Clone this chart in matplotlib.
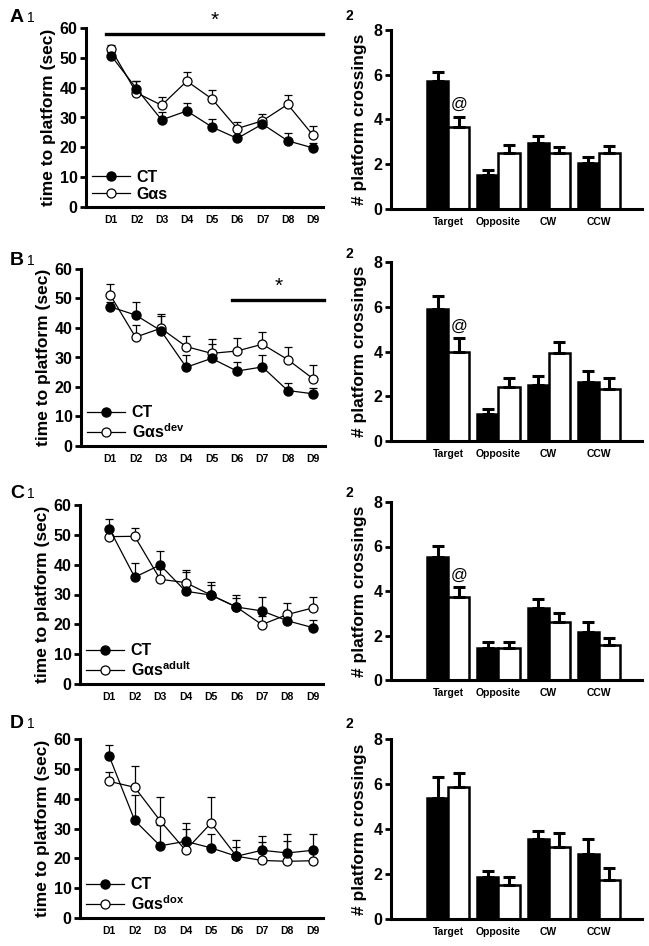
import matplotlib
matplotlib.use('Agg')
import matplotlib.pyplot as plt
import numpy as np

plt.rcParams['font.family'] = ['Liberation Sans', 'DejaVu Sans']
plt.rcParams['font.weight'] = 'bold'
plt.rcParams['axes.labelweight'] = 'bold'
plt.rcParams['mathtext.fontset'] = 'custom'
plt.rcParams['mathtext.rm'] = 'Liberation Sans:bold'
plt.rcParams['mathtext.it'] = 'Liberation Sans:bold'
plt.rcParams['mathtext.bf'] = 'Liberation Sans:bold'

# Days of water maze training
days = ['D1', 'D2', 'D3', 'D4', 'D5', 'D6', 'D7', 'D8', 'D9']
quadrants = ['Target', 'Opposite', 'CW', 'CCW']

# Legend names for the mutant group of each row
mut_names = ['G\u03b1s', 'G\u03b1s$^{\\mathrm{dev}}$',
             'G\u03b1s$^{\\mathrm{adult}}$', 'G\u03b1s$^{\\mathrm{dox}}$']
row_letters = ['A', 'B', 'C', 'D']

# Escape latency (sec), mean and upper SEM
ct_time = [
    [50.7, 39.7, 29.2, 32.2, 26.8, 23.0, 27.8, 22.2, 19.8],
    [47.2, 44.4, 39.1, 26.7, 29.7, 25.4, 26.8, 18.8, 17.7],
    [52.1, 35.8, 39.9, 31.1, 29.8, 25.8, 24.5, 21.2, 18.9],
    [54.2, 32.7, 24.2, 25.7, 23.5, 20.7, 22.7, 21.8, 22.7],
]
ct_time_err = [
    [1.2, 2.6, 2.8, 2.8, 2.8, 1.0, 1.5, 2.7, 1.8],
    [1.5, 4.5, 5.0, 4.3, 5.0, 3.2, 4.0, 2.7, 2.0],
    [3.1, 4.7, 4.8, 6.3, 4.5, 3.0, 4.6, 2.5, 2.7],
    [3.9, 8.6, 7.0, 6.1, 4.8, 5.4, 4.9, 6.4, 5.5],
]
mut_time = [
    [52.8, 38.3, 34.1, 42.2, 36.2, 26.3, 28.9, 34.4, 24.1],
    [51.2, 36.9, 39.9, 33.7, 31.4, 32.2, 34.5, 29.3, 22.8],
    [49.4, 49.5, 35.1, 34.0, 29.8, 25.8, 19.9, 23.3, 25.5],
    [45.8, 43.8, 32.6, 22.7, 31.8, 20.7, 19.3, 19.0, 19.2],
]
mut_time_err = [
    [1.6, 4.0, 2.7, 3.1, 3.1, 2.3, 2.3, 3.0, 3.1],
    [3.6, 4.2, 5.0, 3.7, 4.8, 4.5, 4.0, 4.2, 4.7],
    [2.0, 2.9, 3.5, 4.2, 3.3, 4.0, 2.9, 4.0, 3.7],
    [3.0, 7.0, 7.8, 7.1, 8.9, 3.0, 6.1, 6.9, 3.0],
]

# Probe trial platform crossings
ct_cross = [
    [5.72, 1.52, 2.97, 2.07],
    [5.90, 1.21, 2.51, 2.65],
    [5.52, 1.45, 3.24, 2.17],
    [5.37, 1.87, 3.54, 2.87],
]
ct_cross_err = [
    [0.39, 0.22, 0.30, 0.27],
    [0.60, 0.21, 0.40, 0.49],
    [0.49, 0.27, 0.39, 0.42],
    [0.92, 0.27, 0.39, 0.67],
]
mut_cross = [
    [3.68, 2.52, 2.52, 2.49],
    [3.96, 2.41, 3.92, 2.33],
    [3.72, 1.43, 2.62, 1.57],
    [5.87, 1.50, 3.18, 1.75],
]
mut_cross_err = [
    [0.45, 0.34, 0.27, 0.34],
    [0.63, 0.40, 0.52, 0.50],
    [0.45, 0.29, 0.38, 0.30],
    [0.61, 0.37, 0.66, 0.50],
]
show_at = [True, True, True, False]

# Significance bars (first day, last day, height) on the latency panels
sig_bars = {0: (0.8, 9.4, 58.1), 1: (5.8, 9.45, 49.6)}

time_ticks = [0, 10, 20, 30, 40, 50, 60]
cross_ticks = [0, 2, 4, 6, 8]

# ---- layout in pixels ----
W, H = 649, 946
fig = plt.figure(figsize=(W / 100, H / 100), dpi=100)


def add_ax(x0, x1, ytop, ybot):
    return fig.add_axes([x0 / W, 1 - ybot / H, (x1 - x0) / W, (ybot - ytop) / H])


left_x = [(86, 323), (81, 325), (80, 323), (80, 323)]
left_xlim = [(0.0, 9.4), (-0.15, 9.47), (-0.15, 9.4), (-0.15, 9.4)]
left_y = [(28, 207), (269, 446), (505, 684), (739, 918)]
right_y = [(30, 209), (262, 441), (502, 680), (739, 919)]
letter_y = [22, 265, 498, 728]
two_y = [20, 258, 497, 728]


def style(ax):
    for s in ['top', 'right']:
        ax.spines[s].set_visible(False)
    for s in ['left', 'bottom']:
        ax.spines[s].set_linewidth(2.2)
    ax.tick_params(axis='y', width=2, length=4, pad=2)
    ax.tick_params(axis='x', length=0, pad=6)


xd = np.arange(1, 10)
xq = np.arange(4)
bw = 0.42

for r in range(4):
    # latency panel
    ax = add_ax(left_x[r][0], left_x[r][1], left_y[r][0], left_y[r][1])
    ax.errorbar(xd, mut_time[r], yerr=[np.zeros(9), mut_time_err[r]], fmt='none',
                ecolor='black', elinewidth=0.9, capsize=3, capthick=0.9, zorder=1)
    ax.errorbar(xd, ct_time[r], yerr=[np.zeros(9), ct_time_err[r]], fmt='none',
                ecolor='black', elinewidth=0.9, capsize=3, capthick=0.9, zorder=1)
    ax.plot(xd, mut_time[r], '-o', color='black', lw=0.9, ms=6.5,
            mfc='white', mec='black', mew=0.9, zorder=3, label=mut_names[r])
    ax.plot(xd, ct_time[r], '-o', color='black', lw=0.9, ms=6.5,
            mfc='black', mec='black', zorder=4, label='CT')
    ax.set_xlim(*left_xlim[r])
    ax.set_ylim(0, 60)
    ax.set_yticks(time_ticks)
    ax.set_yticklabels([str(t) for t in time_ticks], fontsize=11.5, fontweight='bold')
    ax.set_xticks(xd)
    ax.set_xticklabels(days, fontsize=7.5, fontweight='bold')
    style(ax)
    ax.set_ylabel('time to platform (sec)', fontsize=12.5, fontweight='bold',
                  labelpad=3)
    h, l = ax.get_legend_handles_labels()
    ax.legend(h[::-1], l[::-1], loc='lower left', bbox_to_anchor=(0.025, 0.03),
              frameon=False, prop={'size': 11.5, 'weight': 'bold'},
              handlelength=2.4, handletextpad=0.4,
              labelspacing=0.1, borderaxespad=0, borderpad=0)
    if r in sig_bars:
        x0, x1, yv = sig_bars[r]
        ax.plot([x0, x1], [yv, yv], color='black', lw=2.4, clip_on=False)
        ax.text((x0 + x1) / 2, yv + 1.2, '*', ha='center', va='bottom',
                fontsize=15, fontweight='normal')

    # probe trial panel
    bx = add_ax(391, 642, right_y[r][0], right_y[r][1])
    bx.bar(xq - bw / 2, ct_cross[r], bw, color='black', edgecolor='black', lw=1.8)
    bx.bar(xq + bw / 2, mut_cross[r], bw, color='white', edgecolor='black', lw=1.8)
    bx.errorbar(xq - bw / 2, ct_cross[r], yerr=[np.zeros(4), ct_cross_err[r]],
                fmt='none', ecolor='black', elinewidth=2.2, capsize=4, capthick=2.2)
    bx.errorbar(xq + bw / 2, mut_cross[r], yerr=[np.zeros(4), mut_cross_err[r]],
                fmt='none', ecolor='black', elinewidth=2.2, capsize=4, capthick=2.2)
    if show_at[r]:
        bx.text(bw / 2, mut_cross[r][0] + mut_cross_err[r][0] + 0.2, '@',
                ha='center', va='bottom', fontsize=12, fontweight='normal')
    bx.set_xlim(-1.14, 3.86)
    bx.set_ylim(0, 8)
    bx.set_yticks(cross_ticks)
    bx.set_yticklabels([str(t) for t in cross_ticks], fontsize=11.5, fontweight='bold')
    bx.set_xticks(xq)
    bx.set_xticklabels(quadrants, fontsize=7.5, fontweight='bold')
    style(bx)
    bx.set_ylabel('# platform crossings', fontsize=12.5, fontweight='bold',
                  labelpad=5)

    # panel labels
    fig.text(10 / W, 1 - letter_y[r] / H, row_letters[r], fontsize=14,
             fontweight='bold', ha='left', va='baseline')
    fig.text(27 / W, 1 - letter_y[r] / H, '1', fontsize=10,
             fontweight='normal', ha='left', va='baseline')
    fig.text(346 / W, 1 - two_y[r] / H, '2', fontsize=10,
             fontweight='bold', ha='left', va='baseline')

plt.savefig('out.png', dpi=100)
